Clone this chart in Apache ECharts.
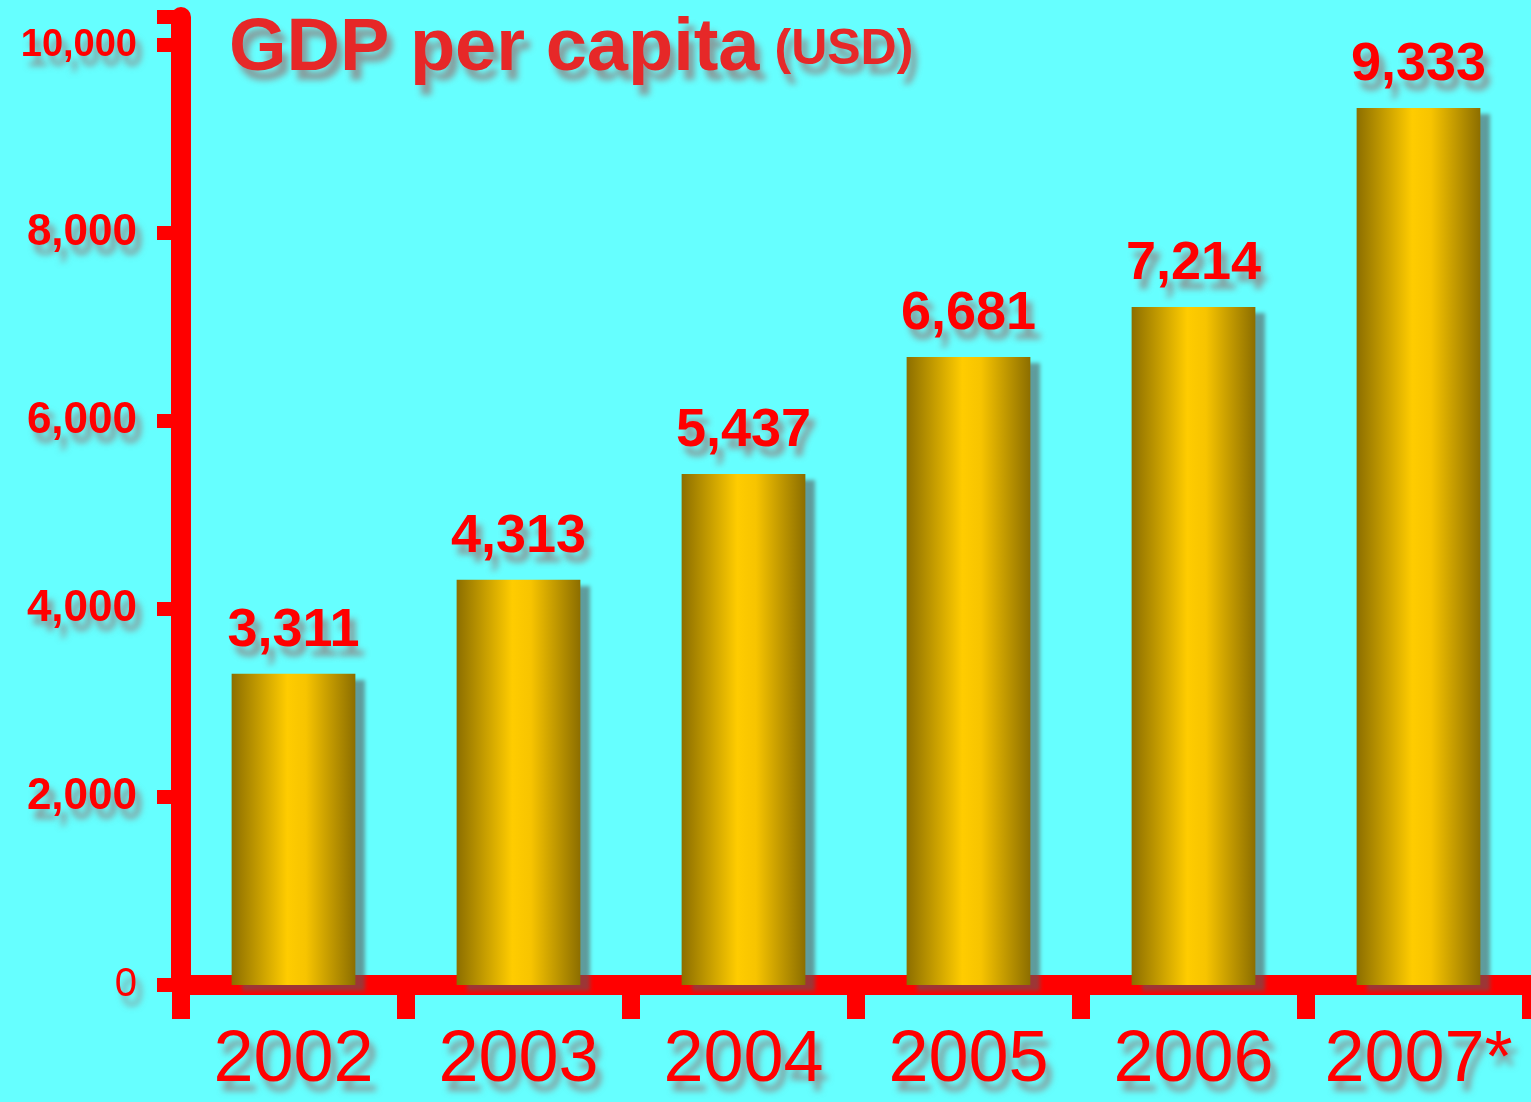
<!DOCTYPE html>
<html>
<head>
<meta charset="utf-8">
<script src="https://cdn.jsdelivr.net/npm/echarts@6/dist/echarts.min.js"></script>
<style>
  html, body { margin: 0; padding: 0; background: #66ffff; }
  #chart { width: 1531px; height: 1102px; }
</style>
</head>
<body>
<div id="chart"></div>
<script>
const years = ['2002', '2003', '2004', '2005', '2006', '2007*'];
const gdpPerCapita = [3311, 4313, 5437, 6681, 7214, 9333];
const yTicks = [0, 2000, 4000, 6000, 8000, 10000];

const RED = '#ff0000';
const FONT = '"Liberation Sans", Arial, sans-serif';
const shadow = { textShadowColor: 'rgba(140,140,140,0.85)', textShadowBlur: 6, textShadowOffsetX: 6, textShadowOffsetY: 10 };

const chart = echarts.init(document.getElementById('chart'));

const fmt = v => v.toLocaleString('en-US');

chart.setOption({
  backgroundColor: '#66ffff',
  animation: false,
  title: {
    left: 224, top: 8,
    text: '{a|GDP per capita} {b|(USD)}',
    textStyle: {
      rich: {
        a: { fontFamily: FONT, fontSize: 74, fontWeight: 'bold', color: '#e62828', ...shadow },
        b: { fontFamily: FONT, fontSize: 50, fontWeight: 'bold', color: '#e62828', padding: [0, 0, 0, 10], ...shadow }
      }
    }
  },
  grid: { left: 181, right: 0, top: 17, bottom: 117 },
  xAxis: {
    type: 'category',
    data: years,
    axisLine: { lineStyle: { color: RED, width: 20 } },
    axisTick: { show: true, interval: 0, length: 34, lineStyle: { color: RED, width: 18 } },
    axisLabel: { interval: 0, fontFamily: FONT, fontSize: 72, color: RED, margin: 40, ...shadow }
  },
  yAxis: {
    type: 'value',
    min: 0, max: 10300, interval: 2000,
    splitLine: { show: false },
    axisLine: { show: true, lineStyle: { color: RED, width: 20 } },
    axisTick: { show: true, length: 24, lineStyle: { color: RED, width: 14 } },
    axisLabel: {
      margin: 44,
      formatter: v => {
        if (!yTicks.includes(v)) return '';
        if (v === 0) return '{z|0}';
        return v === 10000 ? '{s|' + fmt(v) + '}' : '{n|' + fmt(v) + '}';
      },
      rich: {
        n: { fontFamily: FONT, fontSize: 44, fontWeight: 'bold', color: RED, ...shadow },
        s: { fontFamily: FONT, fontSize: 38, fontWeight: 'bold', color: RED, ...shadow },
        z: { fontFamily: FONT, fontSize: 40, color: RED, ...shadow }
      }
    }
  },
  series: [{
    type: 'bar',
    data: gdpPerCapita,
    barWidth: '55%',
    itemStyle: {
      color: new echarts.graphic.LinearGradient(0, 0, 1, 0, [
        { offset: 0, color: '#8c6e00' },
        { offset: 0.45, color: '#ffcc00' },
        { offset: 0.6, color: '#f7c400' },
        { offset: 1, color: '#8c6e00' }
      ]),
      shadowColor: 'rgba(90,90,90,0.6)',
      shadowBlur: 4,
      shadowOffsetX: 10,
      shadowOffsetY: 6
    },
    label: {
      show: true,
      position: 'top',
      distance: 16,
      formatter: p => fmt(p.value),
      fontFamily: FONT, fontSize: 54, fontWeight: 'bold', color: RED,
      ...shadow
    }
  }]
});
</script>
</body>
</html>
